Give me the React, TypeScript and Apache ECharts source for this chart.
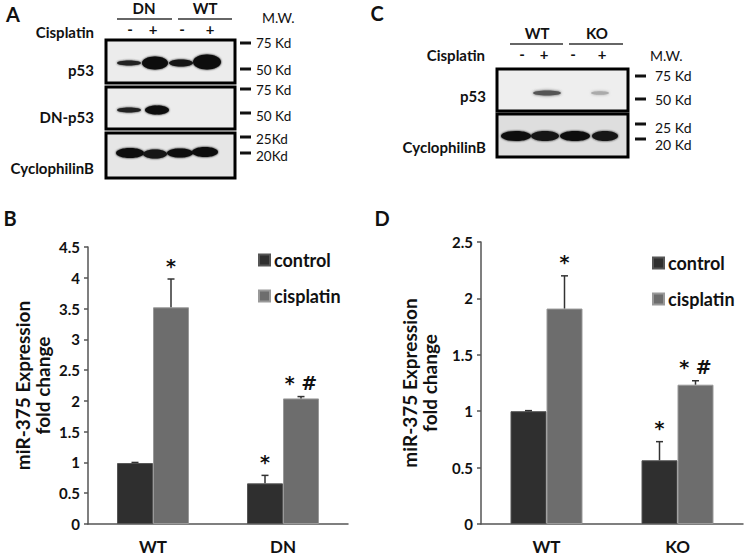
import React, { useEffect, useRef } from "react";
import * as echarts from "echarts";

// ---- Panel B data ----
const catsB = ["WT", "DN"];
const controlB = [0.99, 0.66];
const controlErrB = [0.01, 0.13];
const cisB = [3.52, 2.04];
const cisErrB = [0.46, 0.03];
const controlMarkB = ["", "*"];
const cisMarkB = ["*", "* #"];
const ticksB = { min: 0, max: 4.5, interval: 0.5 };

// ---- Panel D data ----
const catsD = ["WT", "KO"];
const controlD = [1.0, 0.565];
const controlErrD = [0.005, 0.165];
const cisD = [1.91, 1.235];
const cisErrD = [0.29, 0.035];
const controlMarkD = ["", "*"];
const cisMarkD = ["*", "* #"];
const ticksD = { min: 0, max: 2.5, interval: 0.5 };

const seriesNames = ["control", "cisplatin"];
const yName = "miR-375 Expression\nfold change";

// ---- Blot labels ----
const blotA_groups = ["DN", "WT"];
const blotA_rows = ["p53", "DN-p53", "CyclophilinB"];
const blotA_mw = ["75 Kd", "50 Kd", "75 Kd", "50 Kd", "25Kd", "20Kd"];
const blotC_groups = ["WT", "KO"];
const blotC_rows = ["p53", "CyclophilinB"];
const blotC_mw = ["75 Kd", "50 Kd", "25 Kd", "20 Kd"];
const lanes = ["-", "+", "-", "+"];

const FONT = "Lato, 'Open Sans', sans-serif";
const MARK_FONT = "'DejaVu Sans', sans-serif";
const CONTROL_COLOR = "#2f2f2f";
const CIS_COLOR = "#6d6d6d";
const BAR_W = 36;

function errSeries(name: string, axisIdx: number, vals: number[], errs: number[], marks: string[], sign: number) {
  return {
    type: "custom",
    name: name + "-err",
    xAxisIndex: axisIdx,
    yAxisIndex: axisIdx,
    z: 5,
    silent: true,
    data: vals.map((v, i) => [i, v, errs[i]]),
    renderItem: (params: any, api: any) => {
      const cat = api.value(0);
      const v = api.value(1);
      const e = api.value(2);
      const base = api.coord([cat, v]);
      const top = api.coord([cat, v + e]);
      const x = base[0] + (sign * BAR_W) / 2;
      const mark = marks[params.dataIndex];
      const children: any[] = [
        { type: "line", shape: { x1: x, y1: base[1], x2: x, y2: top[1] }, style: { stroke: "#333", lineWidth: 1.5 } },
        { type: "line", shape: { x1: x - 3.5, y1: top[1], x2: x + 3.5, y2: top[1] }, style: { stroke: "#333", lineWidth: 1.5 } },
      ];
      if (mark) {
        children.push({
          type: "text",
          style: {
            text: mark,
            x: x,
            y: top[1] - 4,
            align: "center",
            verticalAlign: "bottom",
            font: `bold 19px ${MARK_FONT}`,
            lineHeight: 19,
            fill: "#111",
          },
        });
      }
      return { type: "group", children };
    },
  };
}

function barSeries(name: string, axisIdx: number, vals: number[], color: string, border: string) {
  return {
    type: "bar",
    name,
    xAxisIndex: axisIdx,
    yAxisIndex: axisIdx,
    barWidth: BAR_W,
    barGap: "0%",
    data: vals,
    itemStyle: { color, borderColor: border, borderWidth: 1 },
  };
}

function txt(text: string, x: number, y: number, opts: any = {}) {
  const size = opts.size || 15;
  return {
    type: "text",
    x,
    y,
    style: {
      text,
      font: `${opts.weight || "bold"} ${size}px ${FONT}`,
      lineHeight: opts.lh || size,
      fill: opts.fill || "#111",
      align: opts.align || "center",
      verticalAlign: "middle",
    },
  };
}

function box(x: number, y: number, w: number, h: number, fill: string) {
  return { type: "rect", shape: { x, y, width: w, height: h }, style: { fill, stroke: "#000", lineWidth: 3 } };
}

function band(cx: number, cy: number, rx: number, ry: number, fill: string, blur = 2) {
  return {
    type: "ellipse",
    shape: { cx, cy, rx, ry },
    style: { fill, shadowBlur: blur, shadowColor: fill },
  };
}

function dash(x: number, y: number) {
  return { type: "line", shape: { x1: x, y1: y, x2: x + 11, y2: y }, style: { stroke: "#111", lineWidth: 3 } };
}

function buildGraphics() {
  const g: any[] = [];
  // Panel letters
  g.push(txt("A", 13, 14, { size: 20 }));
  g.push(txt("C", 377, 13, { size: 20 }));
  g.push(txt("B", 10, 218, { size: 20 }));
  g.push(txt("D", 382, 218, { size: 20 }));

  // ---- Blot A ----
  g.push(txt(blotA_groups[0], 144, 8, { size: 15 }));
  g.push(txt(blotA_groups[1], 205, 8, { size: 15 }));
  g.push({ type: "line", shape: { x1: 117, y1: 19, x2: 172, y2: 19 }, style: { stroke: "#333", lineWidth: 1.5 } });
  g.push({ type: "line", shape: { x1: 178, y1: 19, x2: 232, y2: 19 }, style: { stroke: "#333", lineWidth: 1.5 } });
  g.push(txt("Cisplatin", 94, 32, { size: 15, align: "right" }));
  [130, 153, 182, 210].forEach((x, i) => g.push(txt(lanes[i], x, 29, { size: 15 })));
  g.push(txt("M.W.", 262, 17, { size: 14, weight: "normal", align: "left" }));
  g.push(box(106, 40, 129, 43, "#ececec"));
  g.push(box(106, 87, 129, 42, "#ececec"));
  g.push(box(106, 133, 129, 45, "#e6e6e6"));
  g.push(txt(blotA_rows[0], 94, 70, { size: 15, align: "right" }));
  g.push(txt(blotA_rows[1], 94, 117, { size: 15, align: "right" }));
  g.push(txt(blotA_rows[2], 94, 168, { size: 15, align: "right" }));
  // bands
  g.push(band(129, 63, 12, 2.5, "#222"));
  g.push(band(155, 63, 13, 6.5, "#0a0a0a"));
  g.push(band(181, 63, 12, 3.5, "#151515"));
  g.push(band(207, 62, 14, 7.5, "#0a0a0a"));
  g.push(band(129, 110, 12, 2.5, "#222"));
  g.push(band(157, 110, 12, 4.5, "#0a0a0a"));
  g.push(band(130, 153, 14, 5, "#111"));
  g.push(band(155, 154, 12, 4.5, "#151515"));
  g.push(band(180, 153, 13, 4.5, "#111"));
  g.push(band(205, 152, 13, 5, "#111"));
  const mwA_y = [43, 69, 89, 113, 137, 153];
  const mwA_ty = [43, 70, 90, 116, 139, 155.5];
  mwA_y.forEach((y, i) => {
    g.push(dash(240, y));
    g.push(txt(blotA_mw[i], 256, mwA_ty[i], { size: 13.5, lh: 13, weight: "normal", align: "left" }));
  });

  // ---- Blot C ----
  g.push(txt(blotC_groups[0], 537, 33, { size: 15 }));
  g.push(txt(blotC_groups[1], 597, 33, { size: 15 }));
  g.push({ type: "line", shape: { x1: 510, y1: 44, x2: 563, y2: 44 }, style: { stroke: "#333", lineWidth: 1.5 } });
  g.push({ type: "line", shape: { x1: 569, y1: 44, x2: 623, y2: 44 }, style: { stroke: "#333", lineWidth: 1.5 } });
  g.push(txt("Cisplatin", 485, 55, { size: 15, align: "right" }));
  [522, 544, 573, 602].forEach((x, i) => g.push(txt(lanes[i], x, 54, { size: 15 })));
  g.push(txt("M.W.", 650, 55, { size: 14, weight: "normal", align: "left" }));
  g.push(box(497, 69, 131, 42, "#eeeeee"));
  g.push(box(497, 114, 131, 43, "#dedede"));
  g.push(txt(blotC_rows[0], 486, 96, { size: 15, align: "right" }));
  g.push(txt(blotC_rows[1], 486, 147, { size: 15, align: "right" }));
  g.push(band(547, 93, 14, 2.5, "#555", 3));
  g.push(band(600, 93, 9, 1.8, "#aaa", 3));
  g.push(band(516, 136, 15, 5, "#111"));
  g.push(band(545, 136, 14, 5, "#151515"));
  g.push(band(575, 136, 15, 5, "#111"));
  g.push(band(605, 136, 13, 5, "#151515"));
  const mwC_y = [76, 99, 124, 139];
  const mwC_ty = [75, 99, 127, 144];
  mwC_y.forEach((y, i) => {
    g.push(dash(635, y));
    g.push(txt(blotC_mw[i], 655, mwC_ty[i], { size: 14, lh: 13, weight: "normal", align: "left" }));
  });
  return g;
}

function yAxis(gridIndex: number, t: { min: number; max: number; interval: number }, gap: number) {
  return {
    type: "value",
    gridIndex,
    min: t.min,
    max: t.max,
    interval: t.interval,
    name: yName,
    nameLocation: "middle",
    nameRotate: 90,
    nameGap: gap,
    nameTextStyle: { fontFamily: FONT, fontWeight: "bold", fontSize: 19, color: "#111", lineHeight: 20 },
    axisLine: { show: true, lineStyle: { color: "#555", width: 1.5 } },
    axisTick: { show: true, length: 4, lineStyle: { color: "#555", width: 1.5 } },
    splitLine: { show: false },
    axisLabel: { fontFamily: FONT, fontWeight: "bold", fontSize: 15, color: "#111", margin: 8 },
  };
}

function xAxis(gridIndex: number, cats: string[]) {
  return {
    type: "category",
    gridIndex,
    data: cats,
    axisLine: { show: true, lineStyle: { color: "#555", width: 1.5 } },
    axisTick: { show: false },
    axisLabel: { fontFamily: FONT, fontWeight: "bold", fontSize: 17, lineHeight: 17, color: "#111", margin: 14 },
  };
}

function legend(left: number, top: number) {
  return {
    left,
    top,
    orient: "vertical",
    data: seriesNames,
    icon: "rect",
    itemWidth: 11,
    itemHeight: 11,
    itemGap: 16,
    selectedMode: false,
    textStyle: { fontFamily: FONT, fontWeight: "bold", fontSize: 18, color: "#111", lineHeight: 20, padding: [0, 0, 0, -1] },
  };
}

export default function App() {
  const ref = useRef<HTMLDivElement>(null);
  useEffect(() => {
    if (!ref.current) return;
    const chart = echarts.init(ref.current, undefined, { renderer: "svg" });
    chart.setOption({
      animation: false,
      backgroundColor: "#ffffff",
      grid: [
        { left: 88, right: 397, top: 247, bottom: 32 },
        { left: 481, right: 2, top: 242, bottom: 32 },
      ],
      xAxis: [xAxis(0, catsB), xAxis(1, catsD)],
      yAxis: [yAxis(0, ticksB, 36), yAxis(1, ticksD, 42)],
      legend: [legend(253, 245), legend(647, 248)],
      series: [
        barSeries(seriesNames[0], 0, controlB, CONTROL_COLOR, "#555"),
        barSeries(seriesNames[1], 0, cisB, CIS_COLOR, "#999"),
        errSeries("control", 0, controlB, controlErrB, controlMarkB, -1),
        errSeries("cisplatin", 0, cisB, cisErrB, cisMarkB, 1),
        barSeries(seriesNames[0], 1, controlD, CONTROL_COLOR, "#555"),
        barSeries(seriesNames[1], 1, cisD, CIS_COLOR, "#999"),
        errSeries("control", 1, controlD, controlErrD, controlMarkD, -1),
        errSeries("cisplatin", 1, cisD, cisErrD, cisMarkD, 1),
      ],
      graphic: buildGraphics(),
    });
    return () => chart.dispose();
  }, []);
  return <div ref={ref} style={{ position: "fixed", left: 0, top: 0, width: 745, height: 556 }} />;
}
